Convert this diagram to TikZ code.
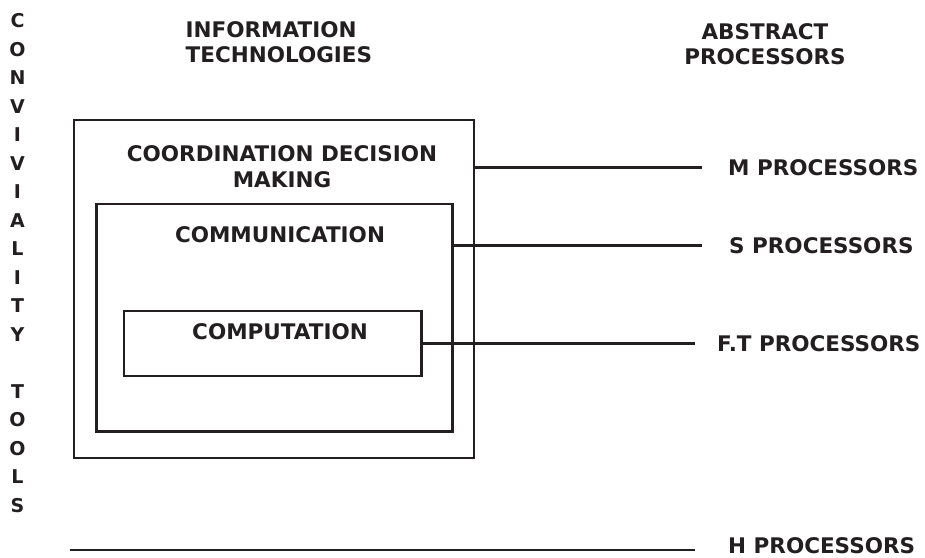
\documentclass[tikz,border=0pt]{standalone}
\usepackage{fontspec}
\setmainfont{DejaVu Sans}
\definecolor{ink}{RGB}{35,31,32}
\begin{document}
\begin{tikzpicture}[x=1pt,y=-1pt,
        every node/.style={text=ink,inner sep=0pt,font=\bfseries\fontsize{21.5}{25}\selectfont},
        letter/.style={font=\bfseries\fontsize{19}{23}\selectfont},
        box/.style={draw=ink,line width=2.6pt,outer sep=0pt},
        wire/.style={draw=ink,line width=2.6pt}]
            \useasboundingbox (0,0) rectangle (925,557);
            \foreach \ch [count=\i from 0] in {C,O,N,V,I,V,I,A,L,I,T,Y}
                \node [letter] (conv\i) at (17.5,{21+28.5*\i}) {\ch};
            \foreach \ch [count=\i from 13] in {T,O,O,L,S}
                \node [letter] (tool\i) at (17.5,{21+28.5*\i}) {\ch};
            \node [align=left,anchor=north west] (info) at (185.5,21.7) {INFORMATION\\TECHNOLOGIES};
            \node [align=center,anchor=north] (abstract) at (765,23) {ABSTRACT\\PROCESSORS};
            \node [box,minimum width=400,minimum height=338] (outer) at (274,289) {};
            \node [box,minimum width=356,minimum height=227.5] (comm) at (274.6,317.7) {};
            \node [box,minimum width=297.7,minimum height=64.7] (comp) at (272.8,343.5) {};
            \node [align=center,font=\bfseries\fontsize{21.5}{26}\selectfont] (coord) at (282,166.5) {COORDINATION DECISION\\MAKING};
            \node (commtext) at (280,235) {COMMUNICATION};
            \node (comptext) at (280,332) {COMPUTATION};
            \node [anchor=west] (mproc) at (728,167.7) {M PROCESSORS};
            \node [anchor=west] (sproc) at (729,245.7) {S PROCESSORS};
            \node [anchor=west] (ftproc) at (717,343.5) {F.T PROCESSORS};
            \node [anchor=west] (hproc) at (728,546) {H PROCESSORS};
            \coordinate (hstart) at (70,550);
            \draw [wire] (outer.east |- mproc.west) -- ([xshift=-26pt]mproc.west);
            \draw [wire] (comm.east |- sproc.west) -- ([xshift=-27pt]sproc.west);
            \draw [wire] (comp.east) -- ([xshift=-22pt]ftproc.west);
            \draw [wire] (hstart) -- ([xshift=-33pt]hproc.west |- hstart);
\end{tikzpicture}
\end{document}
